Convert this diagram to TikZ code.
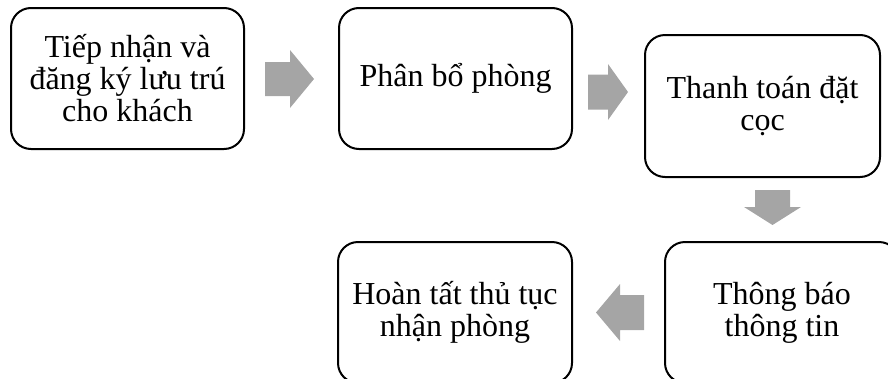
\documentclass[tikz,border=0pt]{standalone}
\usepackage{fontspec}
\setmainfont{Liberation Serif}
\definecolor{arrowgray}{RGB}{165,165,165}
\begin{document}
\begin{tikzpicture}[x=1pt,y=-1pt,
  box/.style={draw=black, line width=2pt, rounded corners=20pt,
    minimum width=233pt, minimum height=141pt, align=center,
    font=\fontsize{32}{32}\selectfont, inner sep=0pt},
  blockarrow/.style={fill=arrowgray, draw=none}]
\useasboundingbox (0,0) rectangle (888,378);
\clip (0,0) rectangle (888,378);
\node[box] (a) at (127.5,78.5) {Tiếp nhận và\\đăng ký lưu trú\\cho khách};
\node[box] (b) at (455.5,78.5) {Phân bổ phòng};
\node[box, minimum width=235pt, minimum height=142pt] (c) at (762.5,106) {Thanh toán đặt\\cọc};
\node[box, minimum width=234pt] (d) at (782,312.5) {Thông báo\\thông tin};
\node[box, minimum width=234pt] (e) at (455,312.5) {Hoàn tất thủ tục\\nhận phòng};
% block arrows
\fill[blockarrow] (265,62) -- (290,62) -- (290,50) -- (314,79) -- (290,108) -- (290,96) -- (265,96) -- cycle;
\fill[blockarrow] (588,74.5) -- (608,74.5) -- (608,64) -- (628,92) -- (608,120) -- (608,109.5) -- (588,109.5) -- cycle;
\fill[blockarrow] (755,190) -- (790,190) -- (790,207) -- (801,207) -- (772.5,225) -- (744,207) -- (755,207) -- cycle;
\fill[blockarrow] (644,295) -- (620,295) -- (620,284) -- (596,312.5) -- (620,341) -- (620,330) -- (644,330) -- cycle;
\end{tikzpicture}
\end{document}
